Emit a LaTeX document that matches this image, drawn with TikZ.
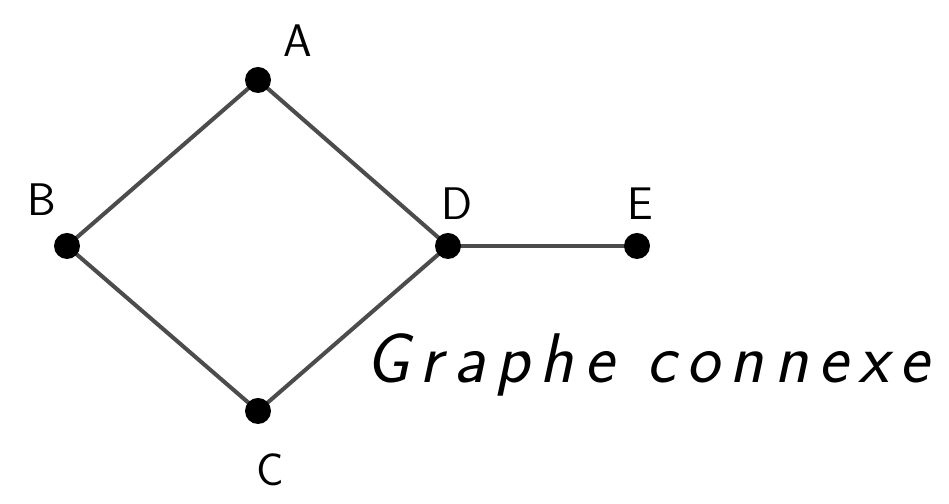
\documentclass[tikz,border=0pt]{standalone}
\usepackage{fontspec}
\newfontfamily\captionfont{Latin Modern Sans}[LetterSpace=15]
\begin{document}
\begin{tikzpicture}[
    vertex/.style={circle, fill=black, inner sep=0pt, minimum size=0.52cm},
    edge/.style={line width=2.3pt, draw=black!70},
    lbl/.style={font=\sffamily\fontsize{26}{30}\selectfont, inner sep=0pt}
  ]
    \useasboundingbox (0,0) rectangle (18.98,10.08);

    \coordinate (A) at (5.16,8.48);
    \coordinate (B) at (1.34,5.16);
    \coordinate (D) at (8.96,5.16);
    \coordinate (E) at (12.74,5.16);
    \coordinate (C) at (5.16,1.86);

    \draw[edge] (A) -- (B) -- (C) -- (D) -- cycle;
    \draw[edge] (D) -- (E);

    \foreach \v in {A,B,C,D,E}
        \node[vertex] (n\v) at (\v) {};

    \node[lbl] (lA) at ([shift={(0.8,0.78)}]A) {A};
    \node[lbl] (lB) at ([shift={(-0.5,0.92)}]B) {B};
    \node[lbl] (lD) at ([shift={(0.18,0.84)}]D) {D};
    \node[lbl] (lE) at ([shift={(0.06,0.84)}]E) {E};
    \node[lbl] (lC) at ([shift={(0.24,-1.18)}]C) {C};

    \node[anchor=base west, inner sep=0pt,
          font=\captionfont\itshape\fontsize{40}{46}\selectfont]
        (title) at (7.30,2.42) {Graphe connexe};
\end{tikzpicture}
\end{document}
